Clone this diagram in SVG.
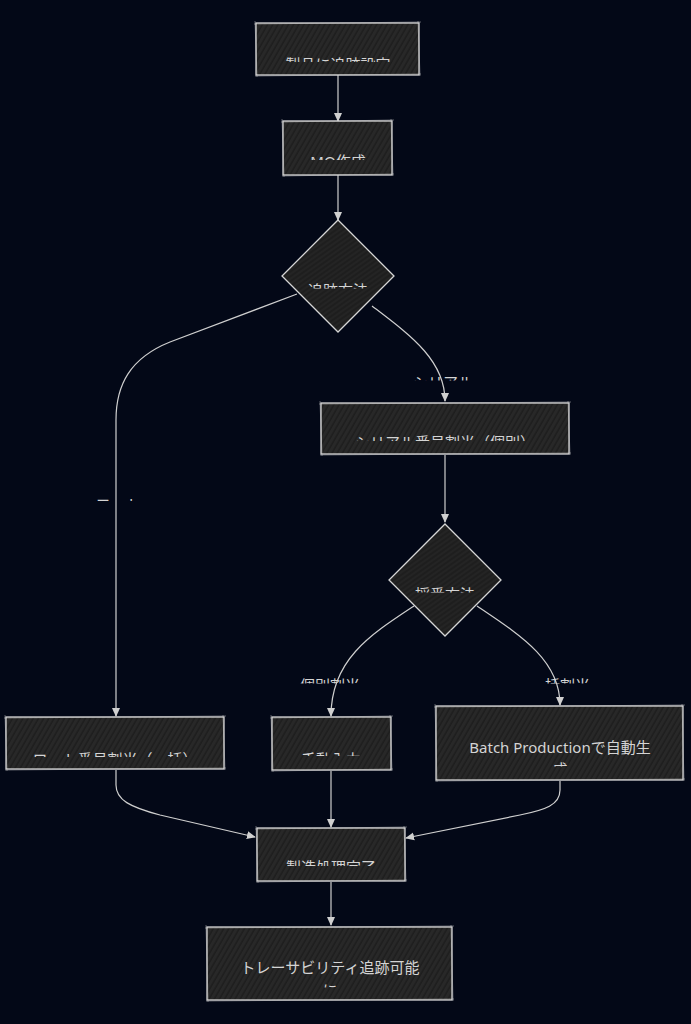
<svg xmlns="http://www.w3.org/2000/svg" width="691" height="1024" viewBox="0 0 691 1024">
<style>
.bg{fill:#030817}
.nb{fill:url(#hatch);stroke:#d6d6d6;stroke-width:1.3}
.db{fill:url(#hatchD);stroke:#d6d6d6;stroke-width:1.3}
.sk{fill:none;stroke:#d6d6d6;stroke-width:0.8;opacity:0.55}
.t{font-family:"Noto Sans","Noto Sans CJK JP",sans-serif;font-size:15px;fill:#d4d4d4;text-anchor:middle}
.edge{fill:none;stroke:#cfcfcf;stroke-width:1.2;marker-end:url(#ah)}
</style>
<defs>
<pattern id="hatch" patternUnits="userSpaceOnUse" width="4.5" height="4.5" patternTransform="rotate(30)">
<rect width="4.5" height="4.5" fill="#282828"/>
<line x1="1" y1="0" x2="1" y2="4.5" stroke="#1a1a1a" stroke-width="1.2"/>
</pattern>
<pattern id="hatchD" patternUnits="userSpaceOnUse" width="4" height="4" patternTransform="rotate(55)">
<rect width="4" height="4" fill="#242424"/>
<line x1="1" y1="0" x2="1" y2="4" stroke="#181818" stroke-width="1"/>
</pattern>
<marker id="ah" viewBox="0 0 10 10" refX="9" refY="5" markerWidth="9" markerHeight="9" orient="auto" markerUnits="userSpaceOnUse">
<path d="M0,0.5 L10,5 L0,9.5 z" fill="#d0d0d0"/>
</marker>
<clipPath id="c1"><rect x="200" y="30" width="280" height="32"/></clipPath>
<clipPath id="c2"><rect x="200" y="130" width="280" height="30"/></clipPath>
<clipPath id="c3"><rect x="250" y="260" width="180" height="28.5"/></clipPath>
<clipPath id="c4"><rect x="300" y="410" width="300" height="31"/></clipPath>
<clipPath id="c5"><rect x="360" y="560" width="180" height="32.5"/></clipPath>
<clipPath id="c6"><rect x="0" y="725" width="240" height="32"/></clipPath>
<clipPath id="c7"><rect x="260" y="725" width="140" height="31"/></clipPath>
<clipPath id="c8"><rect x="430" y="715" width="260" height="51.5"/></clipPath>
<clipPath id="c9"><rect x="250" y="835" width="170" height="31"/></clipPath>
<clipPath id="c10"><rect x="200" y="935" width="260" height="52.5"/></clipPath>
<clipPath id="l1"><rect x="380" y="360" width="130" height="20.5"/></clipPath>
<clipPath id="l2"><rect x="60" y="480" width="120" height="21"/></clipPath>
<clipPath id="l3"><rect x="280" y="665" width="110" height="18.5"/></clipPath>
<clipPath id="l4"><rect x="500" y="665" width="120" height="18.5"/></clipPath>
</defs>
<rect class="bg" x="0" y="0" width="691" height="1024"/>

<g id="connectors">
<path class="edge" d="M338 75 L338 121"/>
<path class="edge" d="M338 175 L338 220"/>
<path class="edge" d="M297 294 L170 342 C130 358 116 385 116 420 L116 716"/>
<path class="edge" d="M372 306 C410 335 445 360 445 401"/>
<path class="edge" d="M445 455 L445 522"/>
<path class="edge" d="M414 606 C370 635 331 660 331 716"/>
<path class="edge" d="M477 606 C520 635 560 660 560 705"/>
<path class="edge" d="M116 770 L116 785 C116 800 130 807 160 815 L255 837"/>
<path class="edge" d="M331 771 L331 827"/>
<path class="edge" d="M560 781 L560 790 C560 805 545 810 520 815 L406 838"/>
<path class="edge" d="M331 882 L331 925"/>
<g clip-path="url(#l1)"><text class="t" x="443" y="388">シリアル</text></g>
<g clip-path="url(#l2)"><text class="t" x="118" y="510">ロット</text></g>
<g clip-path="url(#l3)"><text class="t" x="330" y="691">個別割当</text></g>
<g clip-path="url(#l4)"><text class="t" x="560" y="691">一括割当</text></g>
</g>

<g id="n1">
<rect class="nb" x="256" y="23" width="163" height="52"/>
<path class="sk" d="M254 24 L421 22 M418 21 L420 76 M421 74 L255 76 M257 77 L255 21"/>
<g clip-path="url(#c1)"><text class="t" x="338" y="70">製品に追跡設定</text></g>
</g>
<g id="n2">
<rect class="nb" x="283" y="121" width="109" height="54"/>
<path class="sk" d="M281 122 L394 120 M391 119 L393 176 M394 174 L282 176 M284 177 L282 119"/>
<g clip-path="url(#c2)"><text class="t" x="338" y="167">MO作成</text></g>
</g>
<g id="n3">
<polygon class="db" points="338,220 394,276 338,332 282,276"/>
<g clip-path="url(#c3)"><text class="t" x="338" y="296">追跡方法</text></g>
</g>
<g id="n4">
<rect class="nb" x="321" y="403" width="248" height="51"/>
<path class="sk" d="M319 404 L571 402 M568 401 L570 455 M571 453 L320 455 M322 456 L320 401"/>
<g clip-path="url(#c4)"><text class="t" x="445" y="448">シリアル番号割当（個別）</text></g>
</g>
<g id="n5">
<polygon class="db" points="445,524 501,580 445,636 389,580"/>
<g clip-path="url(#c5)"><text class="t" x="445" y="600">採番方法</text></g>
</g>
<g id="n6">
<rect class="nb" x="6" y="717" width="218" height="52"/>
<path class="sk" d="M4 718 L226 716 M223 715 L225 770 M226 768 L5 770 M7 771 L5 715"/>
<g clip-path="url(#c6)"><text class="t" x="115" y="765">ロット番号割当（一括）</text></g>
</g>
<g id="n7">
<rect class="nb" x="272" y="717" width="119" height="53"/>
<path class="sk" d="M270 718 L393 716 M390 715 L392 771 M393 769 L271 771 M273 772 L271 715"/>
<g clip-path="url(#c7)"><text class="t" x="331" y="765">手動入力</text></g>
</g>
<g id="n8">
<rect class="nb" x="436" y="706" width="247" height="74"/>
<path class="sk" d="M434 707 L685 705 M682 704 L684 781 M685 779 L435 781 M437 782 L435 704"/>
<g clip-path="url(#c8)"><text class="t" x="560" y="753">Batch Productionで自動生</text><text class="t" x="560" y="775">成</text></g>
</g>
<g id="n9">
<rect class="nb" x="257" y="828" width="148" height="53"/>
<path class="sk" d="M255 829 L407 827 M404 826 L406 882 M407 880 L256 882 M258 883 L256 826"/>
<g clip-path="url(#c9)"><text class="t" x="331" y="873">製造処理完了</text></g>
</g>
<g id="n10">
<rect class="nb" x="207" y="927" width="245" height="73"/>
<path class="sk" d="M205 928 L454 926 M451 925 L453 1001 M454 999 L206 1001 M208 1002 L206 925"/>
<g clip-path="url(#c10)"><text class="t" x="330" y="973">トレーサビリティ追跡可能</text><text class="t" x="330" y="996">に</text></g>
</g>
</svg>
